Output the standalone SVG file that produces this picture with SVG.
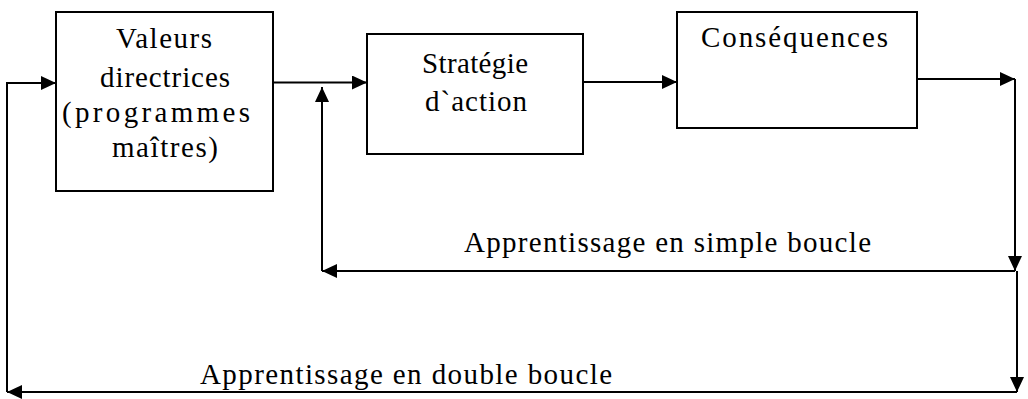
<svg xmlns="http://www.w3.org/2000/svg" width="1028" height="399" viewBox="0 0 1028 399">
  <style>
    text { font-family: Liberation Serif, Times New Roman, Times, DejaVu Serif, serif; font-size: 29px; fill: #000000; }
    .box { fill: #ffffff; stroke: #000000; stroke-width: 2; }
    .edge { fill: none; stroke: #000000; stroke-width: 2; marker-end: url(#arrow); }
  </style>
  <defs>
    <marker id="arrow" markerUnits="userSpaceOnUse" markerWidth="16" markerHeight="14" refX="15" refY="7" orient="auto">
      <path d="M0,0 L15,7 L0,14 z" fill="#000000"/>
    </marker>
  </defs>
  <rect width="1028" height="399" fill="#ffffff"/>

  <g id="node-valeurs">
    <rect class="box" x="56" y="12" width="217" height="179"/>
    <text x="116" y="48" textLength="96" lengthAdjust="spacing">Valeurs</text>
    <text x="100" y="87" textLength="130" lengthAdjust="spacing">directrices</text>
    <text x="62" y="122" textLength="188" lengthAdjust="spacing">(programmes</text>
    <text x="112" y="157" textLength="106" lengthAdjust="spacing">maîtres)</text>
  </g>

  <g id="node-strategie">
    <rect class="box" x="367" y="34" width="216" height="120"/>
    <text x="422" y="73" textLength="106" lengthAdjust="spacing">Stratégie</text>
    <text x="425" y="111" textLength="102" lengthAdjust="spacing">d`action</text>
  </g>

  <g id="node-consequences">
    <rect class="box" x="677" y="12" width="240" height="116"/>
    <text x="701" y="47" textLength="187" lengthAdjust="spacing">Conséquences</text>
  </g>

  <g id="connectors">
    <path class="edge" d="M273,82.5 L367,82.5"/>
    <path class="edge" d="M583,82 L677,82"/>
    <path class="edge" d="M917,79 L1015,79"/>
    <path class="edge" d="M1015,79 L1015,271"/>
    <path class="edge" d="M1015,271 L322,271"/>
    <path class="edge" d="M322,271 L322,87"/>
    <path class="edge" d="M1017,271 L1017,392"/>
    <path class="edge" d="M1017,392 L7,392"/>
    <path class="edge" d="M7,392 L7,83 L56,83"/>
  </g>

  <g id="loop-labels">
    <text x="464" y="252" textLength="407" lengthAdjust="spacing">Apprentissage en simple boucle</text>
    <text x="200" y="384" textLength="412" lengthAdjust="spacing">Apprentissage en double boucle</text>
  </g>
</svg>
